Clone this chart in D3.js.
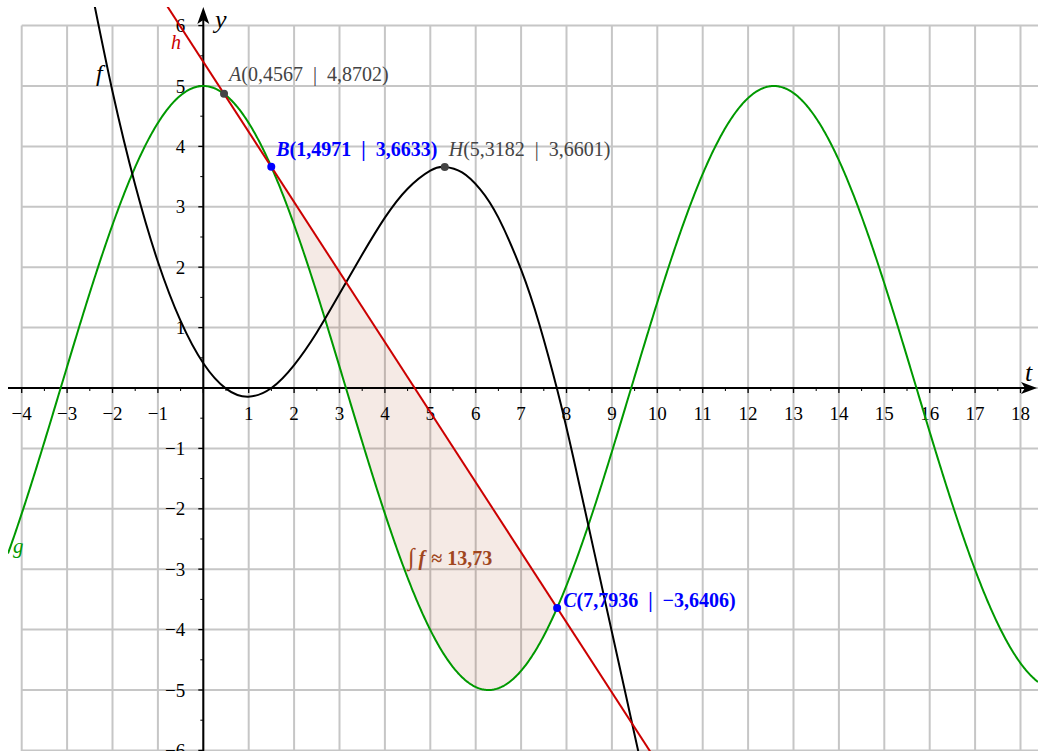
<!DOCTYPE html>
<html>
<head>
<meta charset="utf-8">
<script src="https://cdn.jsdelivr.net/npm/d3@7"></script>
<style>
  body { margin: 0; background: #fff; }
  svg { display: block; font-family: "Liberation Serif", "Times New Roman", serif; }
</style>
</head>
<body>
<script>
const width = 1038;
const height = 751;

// grid and tick values
const gridT = [-4, -3, -2, -1, 0, 1, 2, 3, 4, 5, 6, 7, 8, 9, 10, 11, 12, 13, 14, 15, 16, 17, 18];
const gridY = [-6, -5, -4, -3, -2, -1, 0, 1, 2, 3, 4, 5, 6];
const xTickLabels = [-4, -3, -2, -1, 1, 2, 3, 4, 5, 6, 7, 8, 9, 10, 11, 12, 13, 14, 15, 16, 17, 18];
const yTickLabels = [-6, -5, -4, -3, -2, -1, 1, 2, 3, 4, 5, 6];

// g(t) = amplitude * cos(freq * t)
const gAmplitude = 5;
const gFreq = 0.5;

// h(t) = intercept + slope * t  (line through A, B, C)
const hIntercept = 5.4;
const hSlope = -1.16;

// f
const fT = [-2.45, -2.0, -1.5, -1.0, -0.5, 0, 0.5, 0.99, 1.5, 2.0, 2.5, 3.0, 3.5, 4.0, 4.5, 5.0, 5.3182, 5.7, 6.1, 6.5, 7.0, 7.4, 7.8, 8.15, 8.6, 9.0, 9.4, 9.8];
const fY = [6.54, 4.91, 3.36, 2.09, 1.11, 0.41, -0.01, -0.144, 0.0, 0.38, 0.92, 1.56, 2.21, 2.82, 3.30, 3.60, 3.6601, 3.57, 3.29, 2.82, 1.96, 1.06, -0.04, -1.15, -2.68, -4.04, -5.40, -6.76];

// labelled points
const pointNames = ["A", "B", "H", "C"];
const pointT = [0.4567, 1.4971, 5.3182, 7.7936];
const pointY = [4.8702, 3.6633, 3.6601, -3.6406];

// shaded area between h and g from B to C
const integralValue = 13.73;

const x = d3.scaleLinear().domain([0, 18]).range([203.3, 203.3 + 45.4 * 18]);
const y = d3.scaleLinear().domain([0, 6]).range([388, 388 - 60.4 * 6]);

const clipLeft = 8, clipTop = 7;
const tMin = x.invert(clipLeft), tMax = x.invert(width);

const g = t => gAmplitude * Math.cos(gFreq * t);
const h = t => hIntercept + hSlope * t;

const fmt = v => (v < 0 ? "\u2212" : "") + Math.abs(v).toFixed(4).replace(".", ",");
const tickFmt = v => (v < 0 ? "\u2212" : "") + Math.abs(v);

const svg = d3.select("body").append("svg")
  .attr("width", width)
  .attr("height", height);

svg.append("defs").append("clipPath").attr("id", "plot-clip")
  .append("rect")
  .attr("x", clipLeft).attr("y", clipTop)
  .attr("width", width - clipLeft).attr("height", height - clipTop);

// grid
const grid = svg.append("g").attr("stroke", "#c6c6c6").attr("stroke-width", 2);
grid.selectAll("line.gv").data(gridT).join("line")
  .attr("class", "gv")
  .attr("x1", d => x(d)).attr("x2", d => x(d))
  .attr("y1", y(6)).attr("y2", height);
grid.selectAll("line.gh").data(gridY).join("line")
  .attr("class", "gh")
  .attr("x1", x(-4)).attr("x2", width)
  .attr("y1", d => y(d)).attr("y2", d => y(d));

// shaded integral area
const tB = pointT[1], tC = pointT[3];
const areaT = d3.range(tB, tC, 0.02).concat([tC]);
svg.append("path")
  .datum(areaT)
  .attr("d", d3.area().x(d => x(d)).y0(d => y(g(d))).y1(d => y(h(d))))
  .attr("fill", "#993300")
  .attr("fill-opacity", 0.1);

// axes
const axes = svg.append("g");
axes.append("line")
  .attr("x1", clipLeft).attr("x2", width - 4)
  .attr("y1", y(0)).attr("y2", y(0))
  .attr("stroke", "#000").attr("stroke-width", 2);
axes.append("line")
  .attr("x1", x(0)).attr("x2", x(0))
  .attr("y1", height).attr("y2", clipTop + 4)
  .attr("stroke", "#000").attr("stroke-width", 2);

// arrow heads
axes.append("path")
  .attr("d", `M${width - 1},${y(0)} L${width - 17},${y(0) - 6} L${width - 13},${y(0)} L${width - 17},${y(0) + 6} Z`)
  .attr("fill", "#000");
axes.append("path")
  .attr("d", `M${x(0)},${clipTop} L${x(0) - 6},${clipTop + 17} L${x(0)},${clipTop + 13} L${x(0) + 6},${clipTop + 17} Z`)
  .attr("fill", "#000");

// ticks
const minorX = gridT.map(d => d + 0.5).filter(d => x(d) < width - 18);
axes.selectAll("line.tx").data(gridT).join("line")
  .attr("x1", d => x(d)).attr("x2", d => x(d))
  .attr("y1", y(0)).attr("y2", y(0) + 5)
  .attr("stroke", "#000").attr("stroke-width", 1.3);
axes.selectAll("line.mx").data(minorX).join("line")
  .attr("x1", d => x(d)).attr("x2", d => x(d))
  .attr("y1", y(0)).attr("y2", y(0) + 3)
  .attr("stroke", "#000").attr("stroke-width", 1);
const minorY = gridY.map(d => d + 0.5).filter(d => y(d) > 30);
axes.selectAll("line.ty").data(gridY).join("line")
  .attr("x1", x(0) - 5).attr("x2", x(0))
  .attr("y1", d => y(d)).attr("y2", d => y(d))
  .attr("stroke", "#000").attr("stroke-width", 1.3);
axes.selectAll("line.my").data(minorY).join("line")
  .attr("x1", x(0) - 3).attr("x2", x(0))
  .attr("y1", d => y(d)).attr("y2", d => y(d))
  .attr("stroke", "#000").attr("stroke-width", 1);

// tick labels
axes.selectAll("text.lx").data(xTickLabels).join("text")
  .attr("x", d => x(d)).attr("y", y(0) + 32)
  .attr("text-anchor", "middle")
  .attr("font-size", 19)
  .text(tickFmt);
axes.selectAll("text.ly").data(yTickLabels).join("text")
  .attr("x", x(0) - 18).attr("y", d => y(d) + 6.5)
  .attr("text-anchor", "end")
  .attr("font-size", 19)
  .text(tickFmt);

// axis names
axes.append("text").attr("x", 215).attr("y", 28)
  .attr("font-size", 26).attr("font-style", "italic").text("y");
axes.append("text").attr("x", 1025).attr("y", 381)
  .attr("font-size", 26).attr("font-style", "italic").text("t");

// curves
const plot = svg.append("g").attr("clip-path", "url(#plot-clip)").attr("fill", "none");

const gT = d3.range(tMin, tMax, 0.02).concat([tMax]);
plot.append("path")
  .datum(gT.map(t => [t, g(t)]))
  .attr("d", d3.line().x(d => x(d[0])).y(d => y(d[1])))
  .attr("stroke", "#009900").attr("stroke-width", 2);

plot.append("path")
  .datum(fT.map((t, i) => [t, fY[i]]))
  .attr("d", d3.line().x(d => x(d[0])).y(d => y(d[1])).curve(d3.curveNatural))
  .attr("stroke", "#000").attr("stroke-width", 2);

plot.append("path")
  .datum([[tMin, h(tMin)], [tMax, h(tMax)]])
  .attr("d", d3.line().x(d => x(d[0])).y(d => y(d[1])))
  .attr("stroke", "#cc0000").attr("stroke-width", 2);

// function names
svg.append("text").attr("x", 96).attr("y", 81)
  .attr("font-size", 24).attr("font-style", "italic").text("f");
svg.append("text").attr("x", 171).attr("y", 49)
  .attr("font-size", 20).attr("font-style", "italic").attr("fill", "#cc0000").text("h");
svg.append("text").attr("x", 13).attr("y", 553)
  .attr("font-size", 21).attr("font-style", "italic").attr("fill", "#009900").text("g");

// points and labels
const pointColor = { A: "#444", B: "#0000ff", H: "#444", C: "#0000ff" };
const labelOffset = { A: [5, -13], B: [5, -11], H: [4, -11], C: [6, -1] };
const pts = pointNames.map((n, i) => ({ name: n, t: pointT[i], v: pointY[i] }));

svg.selectAll("circle.pt").data(pts).join("circle")
  .attr("cx", d => x(d.t)).attr("cy", d => y(d.v))
  .attr("r", 4)
  .attr("fill", d => pointColor[d.name]);

const labels = svg.selectAll("text.pl").data(pts).join("text")
  .attr("x", d => x(d.t) + labelOffset[d.name][0])
  .attr("y", d => y(d.v) + labelOffset[d.name][1])
  .attr("font-size", 20)
  .attr("font-weight", d => (d.name === "B" || d.name === "C") ? "bold" : "normal")
  .attr("fill", d => pointColor[d.name]);
labels.append("tspan").attr("font-style", "italic").text(d => d.name);
labels.append("tspan").text(d => "(" + fmt(d.t) + "\u2002|\u2002" + fmt(d.v) + ")");

// integral label
const il = svg.append("text").attr("x", 408).attr("y", 565)
  .attr("font-size", 20).attr("font-weight", "bold").attr("fill", "#a0461e");
il.append("tspan").attr("font-style", "italic").attr("font-weight", "normal")
  .attr("font-size", 24).text("\u222B");
il.append("tspan").attr("dx", 4).attr("font-style", "italic").text("f");
il.append("tspan").attr("dx", 6).text("\u2248");
il.append("tspan").attr("dx", 5).text(integralValue.toFixed(2).replace(".", ","));
</script>
</body>
</html>
